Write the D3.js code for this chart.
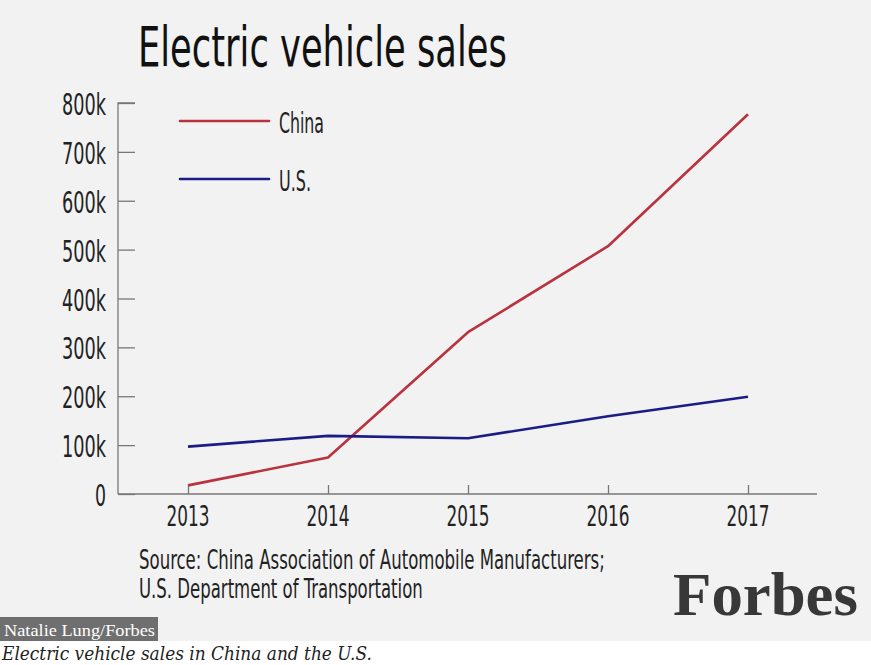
<!DOCTYPE html>
<html>
<head>
<meta charset="utf-8">
<script src="https://cdn.jsdelivr.net/npm/d3@7"></script>
<style>
  html, body { margin: 0; padding: 0; background: #ffffff; }
  svg { display: block; }
</style>
</head>
<body>
<script>
// ---- data ----
const years = [2013, 2014, 2015, 2016, 2017];
const chinaSales = [17600, 74800, 331000, 507000, 777000];
const usSales = [97000, 119000, 114000, 159000, 199000];
const yTickValues = [0, 100000, 200000, 300000, 400000, 500000, 600000, 700000, 800000];
const yTickLabels = ["0", "100k", "200k", "300k", "400k", "500k", "600k", "700k", "800k"];
const seriesNames = ["China", "U.S."];
const seriesColors = ["#b9333f", "#1c1c86"];

const W = 871, H = 665;
const condensed = "'Liberation Sans Narrow', 'DejaVu Sans Condensed', 'Liberation Sans', sans-serif";

const svg = d3.select("body").append("svg").attr("width", W).attr("height", H);

// place a text at (x, y) and squeeze it horizontally to a target width
function fitText(parent, x, y, str, width, opts) {
  const g = parent.append("g");
  const t = g.append("text").attr("x", 0).attr("y", 0)
    .attr("font-family", opts.family || condensed)
    .attr("font-size", opts.size)
    .attr("fill", opts.fill || "#222")
    .attr("text-anchor", opts.anchor || "start")
    .text(str);
  if (opts.weight) t.attr("font-weight", opts.weight);
  if (opts.style) t.attr("font-style", opts.style);
  const natural = t.node().getComputedTextLength() || width;
  const sx = width / natural;
  g.attr("transform", `translate(${x},${y}) scale(${sx},1)`);
  return g;
}

// background panel
svg.append("rect").attr("x", 0).attr("y", 0).attr("width", W).attr("height", 641).attr("fill", "#f2f2f2");

// title
fitText(svg, 138, 66, "Electric vehicle sales", 369, { size: 56, fill: "#111" });

// scales
const x = d3.scalePoint().domain(years).range([188, 748]);
const y = d3.scaleLinear().domain([0, 800000]).range([494, 103]);

// y axis
const gy = svg.append("g").attr("transform", "translate(118,0)")
  .call(d3.axisRight(y).tickValues(yTickValues).tickSize(17).tickFormat(""));
gy.select(".domain").attr("stroke", "#777").attr("stroke-width", 1.3).attr("d", `M17,${y(800000)}H0V${y(0)}`);
gy.selectAll(".tick line").attr("stroke", "#777").attr("stroke-width", 1.3);

yTickValues.forEach((v, i) => {
  const lbl = yTickLabels[i];
  fitText(svg, 106, y(v) + 12, lbl, lbl.length === 1 ? 11 : 44, { size: 31, anchor: "end" });
});

// x axis
const gx = svg.append("g").attr("transform", "translate(0,494)")
  .call(d3.axisTop(x).tickSize(9).tickFormat(""));
gx.select(".domain").attr("stroke", "#777").attr("stroke-width", 1.3).attr("d", "M118,0H817");
gx.selectAll(".tick line").attr("stroke", "#777").attr("stroke-width", 1.3);

years.forEach(yr => {
  fitText(svg, x(yr), 526, String(yr), 43, { size: 29, anchor: "middle" });
});

// lines
const line = d3.line().x((d, i) => x(years[i])).y(d => y(d));
[chinaSales, usSales].forEach((s, k) => {
  svg.append("path").datum(s).attr("d", line)
    .attr("fill", "none").attr("stroke", seriesColors[k]).attr("stroke-width", 2.6)
    .attr("stroke-linejoin", "round");
});

// legend
const legY = [121, 179];
const legW = [45, 32];
seriesNames.forEach((n, k) => {
  svg.append("line").attr("x1", 180).attr("x2", 269).attr("y1", legY[k]).attr("y2", legY[k])
    .attr("stroke", seriesColors[k]).attr("stroke-width", 2.6).attr("stroke-linecap", "round");
  fitText(svg, 279, legY[k] + 12, n, legW[k], { size: 28 });
});

// source
fitText(svg, 139, 569, "Source: China Association of Automobile Manufacturers;", 466, { size: 27 });
fitText(svg, 139, 598, "U.S. Department of Transportation", 284, { size: 27 });

// Forbes logo
fitText(svg, 673, 615, "Forbes", 185, {
  size: 62, family: "'Liberation Serif', 'DejaVu Serif', serif", weight: "bold", fill: "#383838"
});

// credit box
svg.append("rect").attr("x", 0).attr("y", 617).attr("width", 158).attr("height", 24).attr("fill", "#6f6f6f");
fitText(svg, 4, 636, "Natalie Lung/Forbes", 151, {
  size: 16, family: "'Liberation Serif', 'DejaVu Serif', serif", fill: "#ffffff"
});

// caption
fitText(svg, 2, 660, "Electric vehicle sales in China and the U.S.", 370, {
  size: 18, family: "'DejaVu Serif', 'Liberation Serif', serif", style: "italic", fill: "#222"
});
</script>
</body>
</html>
